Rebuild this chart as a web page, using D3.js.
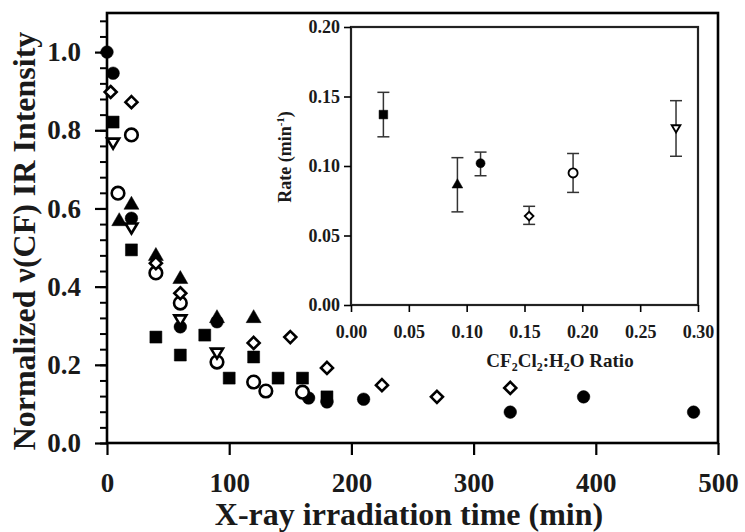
<!DOCTYPE html>
<html>
<head>
<meta charset="utf-8">
<script src="https://cdn.jsdelivr.net/npm/d3@7"></script>
<style>
  body { margin: 0; background: #fff; }
  text { font-family: "Liberation Serif", "Times New Roman", serif; font-weight: bold; fill: #1a1a1a; }
</style>
</head>
<body>
<script>
// main plot: normalized intensity vs irradiation time, one pair of arrays per sample
var timeFilledCircle = [0, 5, 20, 60, 90, 165, 180, 210, 330, 390, 480];
var valFilledCircle  = [1.0, 0.946, 0.575, 0.297, 0.31, 0.115, 0.105, 0.112, 0.079, 0.118, 0.079];

var timeSquare = [5, 20, 40, 60, 80, 100, 120, 140, 160, 180];
var valSquare  = [0.821, 0.494, 0.271, 0.225, 0.276, 0.166, 0.22, 0.166, 0.166, 0.118];

var timeTriangle = [10, 20, 40, 60, 90, 120];
var valTriangle  = [0.57, 0.612, 0.481, 0.422, 0.322, 0.322];

var timeDiamond = [3, 20, 40, 60, 120, 150, 180, 225, 270, 330];
var valDiamond  = [0.898, 0.872, 0.46, 0.383, 0.256, 0.271, 0.192, 0.148, 0.118, 0.141];

var timeOpenCircle = [9, 20, 40, 60, 90, 120, 130, 160];
var valOpenCircle  = [0.639, 0.788, 0.435, 0.358, 0.207, 0.156, 0.133, 0.130];

var timeDownTri = [5, 20, 60, 90];
var valDownTri  = [0.767, 0.55, 0.315, 0.23];

var xTicks = [0, 100, 200, 300, 400, 500];
var yTicks = [0, 0.2, 0.4, 0.6, 0.8, 1.0];

// inset: rate vs CF2Cl2:H2O ratio
var ratio  = [0.028, 0.092, 0.112, 0.154, 0.192, 0.281];
var rate   = [0.137, 0.087, 0.102, 0.064, 0.095, 0.127];
var rateLo = [0.121, 0.067, 0.093, 0.058, 0.081, 0.107];
var rateHi = [0.153, 0.106, 0.110, 0.071, 0.109, 0.147];
var rateShape = ["fsquare", "ftriangle", "fcircle", "odiamond", "ocircle", "otriangle"];
var insetXTicks = [0, 0.05, 0.10, 0.15, 0.20, 0.25, 0.30];
var insetYTicks = [0, 0.05, 0.10, 0.15, 0.20];

var width = 745, height = 532;
var svg = d3.select("body").append("svg")
    .attr("width", width).attr("height", height);

var x = d3.scaleLinear().domain([0, 500]).range([107, 718]);
var y = d3.scaleLinear().domain([0, 1.1]).range([443, 13]);

// marker path for a shape name, k = scale
function shapePath(kind, k) {
    var p = d3.path();
    if (kind == "fcircle" || kind == "ocircle") {
        var r = 6.3 * k;
        p.arc(0, 0, r, 0, 2 * Math.PI);
    } else if (kind == "fsquare") {
        var s = 6 * k;
        p.rect(-s, -s, 2 * s, 2 * s);
    } else if (kind == "ftriangle") {
        p.moveTo(0, -7.5 * k); p.lineTo(7.5 * k, 5.5 * k); p.lineTo(-7.5 * k, 5.5 * k); p.closePath();
    } else if (kind == "otriangle") {
        p.moveTo(0, 5.5 * k); p.lineTo(6 * k, -4.5 * k); p.lineTo(-6 * k, -4.5 * k); p.closePath();
    } else if (kind == "odiamond") {
        var d = 6 * k;
        p.moveTo(0, -d); p.lineTo(d, 0); p.lineTo(0, d); p.lineTo(-d, 0); p.closePath();
    }
    return p.toString();
}

function drawMarkers(g, xs, ys, kind, k, sx, sy) {
    var filled = kind.charAt(0) == "f";
    g.append("g").selectAll("path").data(d3.zip(xs, ys)).enter()
        .append("path")
        .attr("d", shapePath(kind, k))
        .attr("transform", function(d) { return "translate(" + sx(d[0]) + "," + sy(d[1]) + ")"; })
        .attr("fill", filled ? "#000" : "#fff")
        .attr("stroke", "#000")
        .attr("stroke-width", filled ? 0.5 : 2.6 * k);
}

// main axes
var yMinor = d3.range(0, 28).map(function(i) { return i * 0.04; });
svg.append("g").attr("transform", "translate(107,0)")
    .call(d3.axisLeft(y).tickValues(yMinor).tickSize(7).tickFormat(""))
    .call(function(g) { g.select(".domain").remove(); g.selectAll("line").attr("stroke-width", 2); });

svg.append("g").attr("transform", "translate(107,0)")
    .call(d3.axisLeft(y).tickValues(yTicks).tickSize(12).tickPadding(14).tickFormat(d3.format(".1f")))
    .call(function(g) {
        g.select(".domain").remove();
        g.selectAll("line").attr("stroke-width", 2.2);
        g.selectAll("text").attr("font-size", 27).attr("fill", "#1a1a1a")
            .attr("font-family", "Liberation Serif").attr("font-weight", "bold");
    });

svg.append("g").attr("transform", "translate(0,443)")
    .call(d3.axisBottom(x).tickValues(xTicks).tickSize(12).tickPadding(18))
    .call(function(g) {
        g.select(".domain").remove();
        g.selectAll("line").attr("stroke-width", 2.2);
        g.selectAll("text").attr("font-size", 27).attr("fill", "#1a1a1a")
            .attr("font-family", "Liberation Serif").attr("font-weight", "bold");
    });

svg.append("rect")
    .attr("x", x(0)).attr("y", y(1.1))
    .attr("width", x(500) - x(0)).attr("height", y(0) - y(1.1))
    .attr("fill", "none").attr("stroke", "#000").attr("stroke-width", 2.6);

svg.append("text")
    .attr("x", 409).attr("y", 525)
    .attr("text-anchor", "middle").attr("font-size", 32)
    .text("X-ray irradiation time (min)");

svg.append("text")
    .attr("transform", "translate(35,241) rotate(-90)")
    .attr("text-anchor", "middle").attr("font-size", 32)
    .text("Normalized ν(CF) IR Intensity");

// inset
var xi = d3.scaleLinear().domain([0, 0.3]).range([351, 698]);
var yi = d3.scaleLinear().domain([0, 0.2]).range([305, 27]);

svg.append("rect")
    .attr("x", xi(0)).attr("y", yi(0.2))
    .attr("width", xi(0.3) - xi(0)).attr("height", yi(0) - yi(0.2))
    .attr("fill", "#fff").attr("stroke", "#222").attr("stroke-width", 2.2);

svg.append("g").attr("transform", "translate(351,0)")
    .call(d3.axisLeft(yi).tickValues(insetYTicks).tickSize(7).tickPadding(4).tickFormat(d3.format(".2f")))
    .call(function(g) {
        g.select(".domain").remove();
        g.selectAll("line").attr("stroke-width", 1.6);
        g.selectAll("text").attr("font-size", 18).attr("fill", "#333")
            .attr("font-family", "Liberation Serif").attr("font-weight", "bold");
    });

svg.append("g").attr("transform", "translate(0,305)")
    .call(d3.axisBottom(xi).tickValues(insetXTicks).tickSize(7).tickPadding(13).tickFormat(d3.format(".2f")))
    .call(function(g) {
        g.select(".domain").remove();
        g.selectAll("line").attr("stroke-width", 1.6);
        g.selectAll("text").attr("font-size", 18).attr("fill", "#333")
            .attr("font-family", "Liberation Serif").attr("font-weight", "bold");
    });

var insetX = svg.append("text")
    .attr("x", 560).attr("y", 367)
    .attr("text-anchor", "middle").attr("font-size", 19).attr("fill", "#333");
insetX.append("tspan").text("CF");
insetX.append("tspan").attr("font-size", 12).attr("dy", 4).text("2");
insetX.append("tspan").attr("dy", -4).text("Cl");
insetX.append("tspan").attr("font-size", 12).attr("dy", 4).text("2");
insetX.append("tspan").attr("dy", -4).text(":H");
insetX.append("tspan").attr("font-size", 12).attr("dy", 4).text("2");
insetX.append("tspan").attr("dy", -4).text("O Ratio");

var insetY = svg.append("text")
    .attr("transform", "translate(291,157) rotate(-90)")
    .attr("text-anchor", "middle").attr("font-size", 18).attr("fill", "#333");
insetY.append("tspan").text("Rate (min");
insetY.append("tspan").attr("font-size", 11).attr("dy", -7).text("-1");
insetY.append("tspan").attr("dy", 7).text(")");

// error bars
var err = svg.append("g").attr("stroke", "#333").attr("stroke-width", 1.5);
ratio.forEach(function(r, i) {
    err.append("line").attr("x1", xi(r)).attr("x2", xi(r)).attr("y1", yi(rateLo[i])).attr("y2", yi(rateHi[i]));
    err.append("line").attr("x1", xi(r) - 6).attr("x2", xi(r) + 6).attr("y1", yi(rateLo[i])).attr("y2", yi(rateLo[i]));
    err.append("line").attr("x1", xi(r) - 6).attr("x2", xi(r) + 6).attr("y1", yi(rateHi[i])).attr("y2", yi(rateHi[i]));
});
ratio.forEach(function(r, i) {
    drawMarkers(svg, [r], [rate[i]], rateShape[i], 0.72, xi, yi);
});

// main data
drawMarkers(svg, timeSquare, valSquare, "fsquare", 1, x, y);
drawMarkers(svg, timeTriangle, valTriangle, "ftriangle", 1, x, y);
drawMarkers(svg, timeFilledCircle, valFilledCircle, "fcircle", 1, x, y);
drawMarkers(svg, timeOpenCircle, valOpenCircle, "ocircle", 1, x, y);
drawMarkers(svg, timeDiamond, valDiamond, "odiamond", 1, x, y);
drawMarkers(svg, timeDownTri, valDownTri, "otriangle", 1, x, y);
</script>
</body>
</html>
